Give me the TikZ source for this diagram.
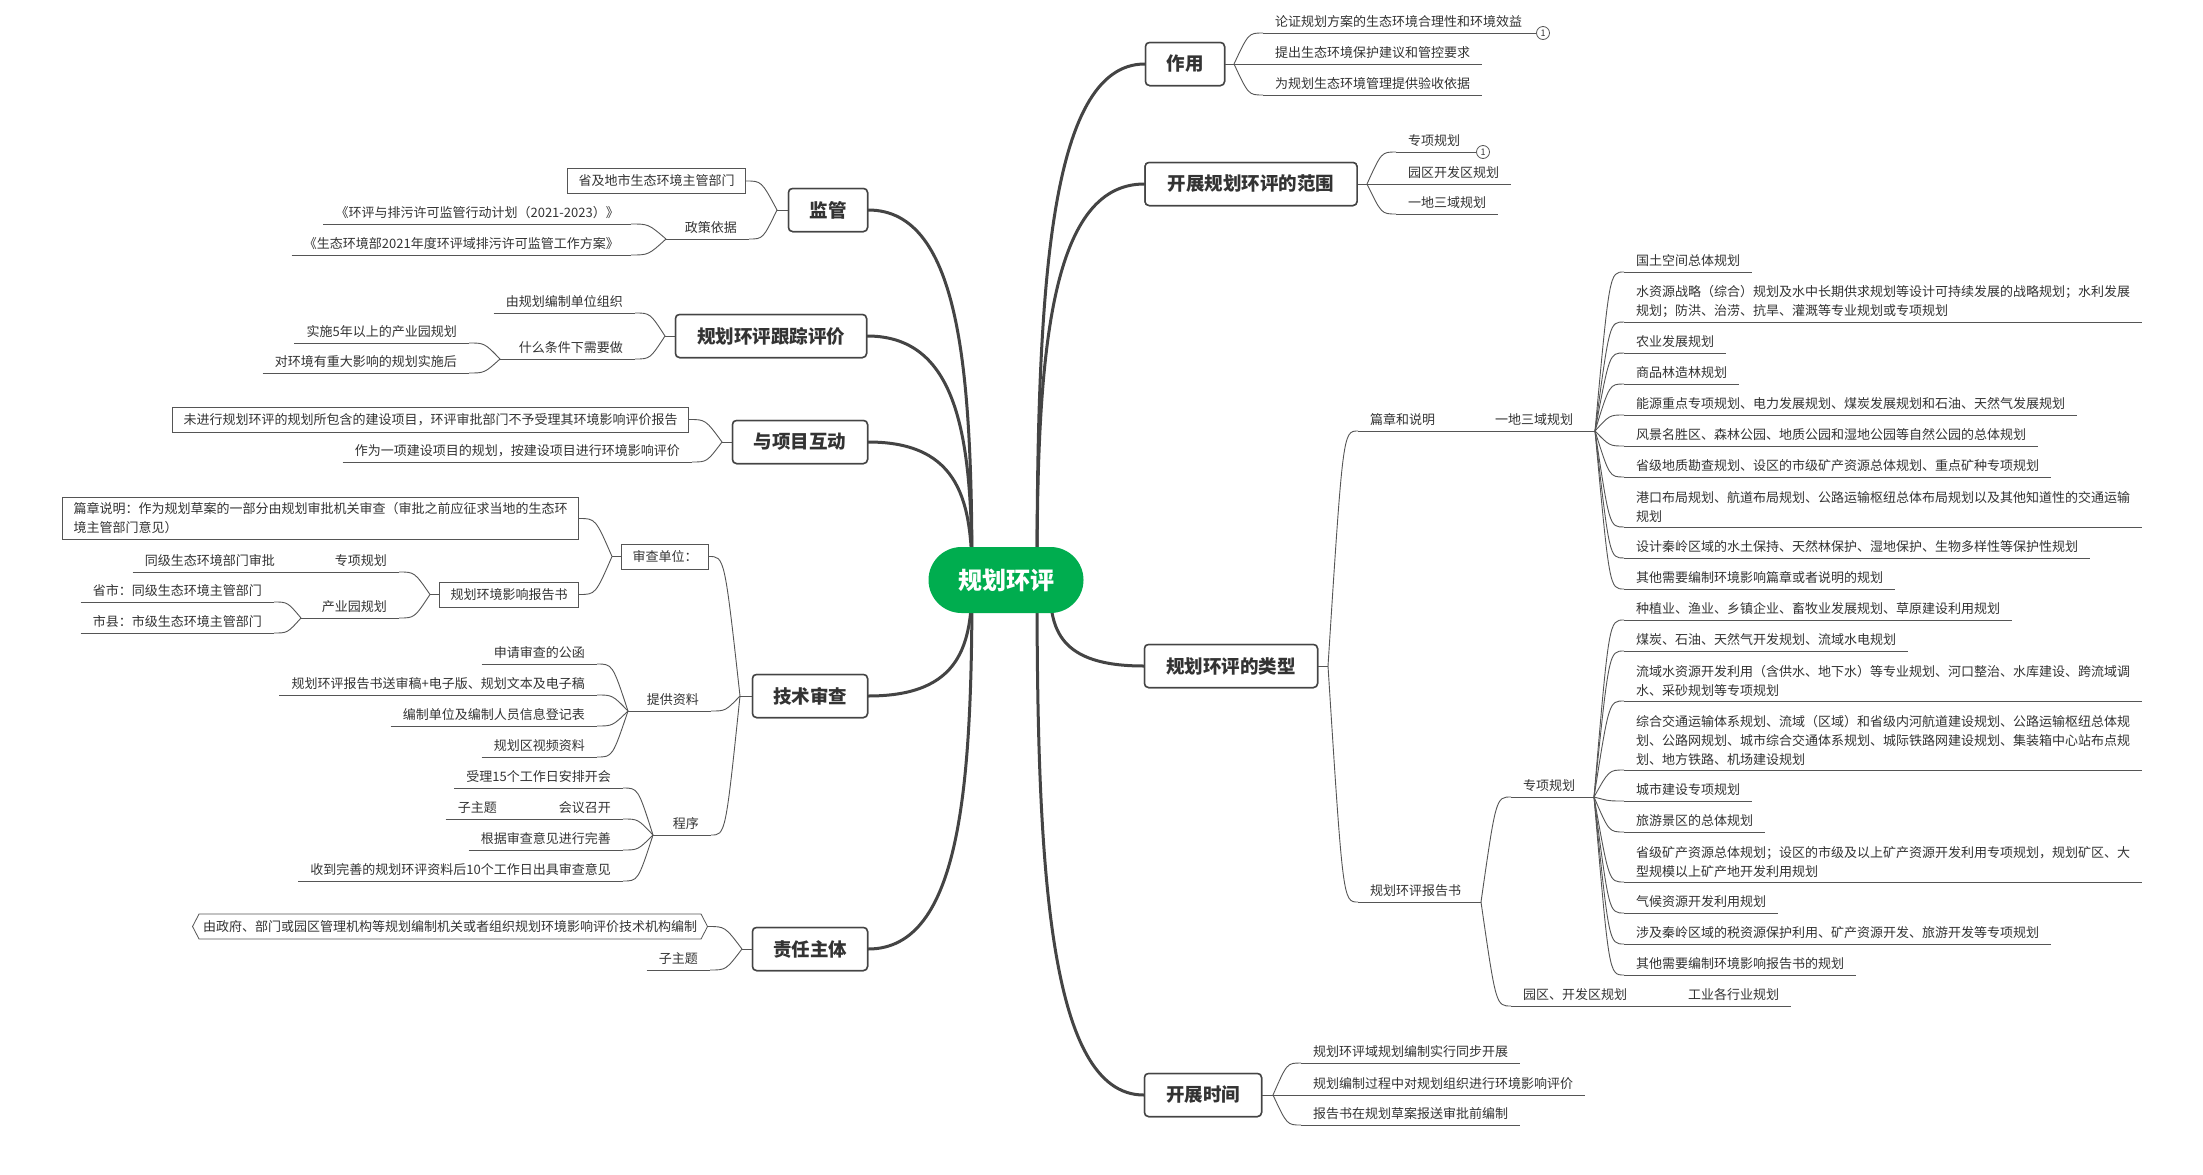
\documentclass[tikz,border=0pt]{standalone}
\usepackage{fontspec}
\setmainfont{Noto Sans CJK SC}
\usetikzlibrary{calc,shapes.symbols}
\definecolor{txt}{HTML}{333333}
\definecolor{ln}{HTML}{555555}
\definecolor{thk}{HTML}{444444}
\definecolor{grn}{HTML}{00AD4F}
\newcommand\fsleaf{\fontsize{13}{19}\selectfont}
\newcommand\cur[2]{\draw[conn] (#1) .. controls ($(#1 |- #2)!0.5!(#2)$) .. (#2);}
\newcommand\mcur[2]{\draw[mainln] let \p1=(#1), \p2=(#2) in (\p1) .. controls (\x1, {\y1+0.55*(\y2-\y1)}) and ({\x1+0.1*(\x2-\x1)}, \y2) .. (\p2);}
\tikzset{
  conn/.style={draw=ln, line width=0.9pt},
  mainln/.style={draw=thk, line width=3pt, line cap=round},
  leafR/.style={anchor=south west, font=\fsleaf, text=txt, inner xsep=12pt, inner ysep=4pt, text height=11pt, text depth=2pt},
  leafL/.style={leafR, anchor=south east},
  multiR/.style={anchor=south west, font=\fsleaf, text=txt, inner xsep=12pt, inner ysep=4pt, align=left},
  boxL/.style={anchor=east, font=\fsleaf, text=txt, draw=ln, line width=0.8pt, inner xsep=11pt, inner ysep=6pt, text height=11pt, text depth=2pt},
  topic/.style={draw=thk, fill=white, rounded corners=4pt, line width=1.5pt, font=\fontsize{18.5}{22}\selectfont\bfseries, text=txt, minimum height=43pt, inner xsep=0pt},
  circ/.style={circle, draw=ln, line width=0.8pt, inner sep=0pt, minimum size=13pt, font=\fontsize{9}{9}\selectfont, text=txt},
}
\begin{document}
\begin{tikzpicture}[x=1pt,y=-1pt]
\fill[white] (0,0) rectangle (2203,1175);
\useasboundingbox (0,0) rectangle (2203,1175);

% main topics (placed first for naming; redrawn on top below)
\node[topic, minimum width=79pt] (zy) at (1185,64) {作用};
\node[topic, minimum width=212pt] (fw) at (1251,184) {开展规划环评的范围};
\node[topic, minimum width=173pt] (lx) at (1231,666) {规划环评的类型};
\node[topic, minimum width=117pt] (sj) at (1203,1095) {开展时间};
\node[topic, minimum width=79pt] (jg) at (828,210) {监管};
\node[topic, minimum width=191pt] (gz) at (771,336) {规划环评跟踪评价};
\node[topic, minimum width=135pt] (hd) at (800,442) {与项目互动};
\node[topic, minimum width=115pt] (jc) at (810,696) {技术审查};
\node[topic, minimum width=115pt] (zt) at (810,949) {责任主体};

% main connectors
\coordinate (rs) at (1037,580);
\coordinate (rs2) at (1050,585);
\coordinate (ls) at (972,580);
\mcur{rs}{zy.west}
\mcur{rs}{fw.west}
\mcur{rs2}{lx.west}
\mcur{rs}{sj.west}
\mcur{ls}{jg.east}
\mcur{ls}{gz.east}
\mcur{ls}{hd.east}
\mcur{ls}{jc.east}
\mcur{ls}{zt.east}
\node[fill=grn, rounded corners=33pt, minimum width=155pt, minimum height=66pt, text=white, font=\fontsize{24}{28}\selectfont\bfseries] (root) at (1006,580) {规划环评};
% redraw boxes on top of connectors
\foreach \w/\p/\t in {79/{1185,64}/作用, 212/{1251,184}/开展规划环评的范围, 173/{1231,666}/规划环评的类型, 117/{1203,1095}/开展时间, 79/{828,210}/监管, 191/{771,336}/规划环评跟踪评价, 135/{800,442}/与项目互动, 115/{810,696}/技术审查, 115/{810,949}/责任主体}
  {\node[topic, minimum width=\w pt] at (\p) {\t};}

% ---------- 作用
\coordinate (fa) at (1234,64);
\draw[conn] (zy.east) -- (fa);
\node[leafR] (a1) at (1263,33) {论证规划方案的生态环境合理性和环境效益};
\node[leafR] (a2) at (1263,64) {提出生态环境保护建议和管控要求};
\node[leafR] (a3) at (1263,95) {为规划生态环境管理提供验收依据};
\node[circ] (n1) at (1543,33) {1};
\draw[conn] (a1.south east) -- (n1.west);
\foreach \n in {a1,a2,a3} {\cur{fa}{\n.south west}}

% ---------- 范围
\coordinate (fb) at (1367,184);
\draw[conn] (fw.east) -- (fb);
\node[leafR] (b1) at (1396,152) {专项规划};
\node[leafR] (b2) at (1396,184) {园区开发区规划};
\node[leafR] (b3) at (1396,214) {一地三域规划};
\node[circ] (n2) at (1483,152) {1};
\draw[conn] (b1.south east) -- (n2.west);
\foreach \n in {b1,b2,b3} {\cur{fb}{\n.south west}}

% ---------- 类型
\coordinate (fc) at (1328,666);
\draw[conn] (lx.east) -- (fc);
\node[leafR] (c1) at (1358,431) {篇章和说明};
\node[leafR] (c11) at (1483,431) {一地三域规划};
\draw[conn] (c1.south east) -- (c11.south west);
\coordinate (k11) at (1595,431);
\draw[conn] (c11.south east) -- (k11);
\node[leafR] (q1) at (1624,272) {国土空间总体规划};
\node[multiR] (q2) at (1624,322) {水资源战略（综合）规划及水中长期供求规划等设计可持续发展的战略规划；水利发展\\规划；防洪、治涝、抗旱、灌溉等专业规划或专项规划};
\node[leafR] (q3) at (1624,353) {农业发展规划};
\node[leafR] (q4) at (1624,384) {商品林造林规划};
\node[leafR] (q5) at (1624,415) {能源重点专项规划、电力发展规划、煤炭发展规划和石油、天然气发展规划};
\node[leafR] (q6) at (1624,446) {风景名胜区、森林公园、地质公园和湿地公园等自然公园的总体规划};
\node[leafR] (q7) at (1624,477) {省级地质勘查规划、设区的市级矿产资源总体规划、重点矿种专项规划};
\node[multiR] (q8) at (1624,527) {港口布局规划、航道布局规划、公路运输枢纽总体布局规划以及其他知道性的交通运输\\规划};
\node[leafR] (q9) at (1624,558) {设计秦岭区域的水土保持、天然林保护、湿地保护、生物多样性等保护性规划};
\node[leafR] (q10) at (1624,589) {其他需要编制环境影响篇章或者说明的规划};
\foreach \i in {1,...,10} {\cur{k11}{q\i.south west}}

\node[leafR] (c2) at (1358,902) {规划环评报告书};
\coordinate (k2) at (1481,902);
\draw[conn] (c2.south east) -- (k2);
\node[leafR] (c21) at (1511,797) {专项规划};
\coordinate (k21) at (1594,797);
\draw[conn] (c21.south east) -- (k21);
\node[leafR] (c22) at (1511,1006) {园区、开发区规划};
\node[leafR] (c221) at (1676,1006) {工业各行业规划};
\draw[conn] (c22.south east) -- (c221.south west);
\cur{fc}{c1.south west}
\cur{fc}{c2.south west}
\cur{k2}{c21.south west}
\cur{k2}{c22.south west}
\node[leafR] (r1) at (1624,620) {种植业、渔业、乡镇企业、畜牧业发展规划、草原建设利用规划};
\node[leafR] (r2) at (1624,651) {煤炭、石油、天然气开发规划、流域水电规划};
\node[multiR] (r3) at (1624,701) {流域水资源开发利用（含供水、地下水）等专业规划、河口整治、水库建设、跨流域调\\水、采砂规划等专项规划};
\node[multiR] (r4) at (1624,770) {综合交通运输体系规划、流域（区域）和省级内河航道建设规划、公路运输枢纽总体规\\划、公路网规划、城市综合交通体系规划、城际铁路网建设规划、集装箱中心站布点规\\划、地方铁路、机场建设规划};
\node[leafR] (r5) at (1624,801) {城市建设专项规划};
\node[leafR] (r6) at (1624,832) {旅游景区的总体规划};
\node[multiR] (r7) at (1624,882) {省级矿产资源总体规划；设区的市级及以上矿产资源开发利用专项规划，规划矿区、大\\型规模以上矿产地开发利用规划};
\node[leafR] (r8) at (1624,913) {气候资源开发利用规划};
\node[leafR] (r9) at (1624,944) {涉及秦岭区域的税资源保护利用、矿产资源开发、旅游开发等专项规划};
\node[leafR] (r10) at (1624,975) {其他需要编制环境影响报告书的规划};
\foreach \i in {1,...,10} {\cur{k21}{r\i.south west}}

% ---------- 开展时间
\coordinate (fd) at (1273,1095);
\draw[conn] (sj.east) -- (fd);
\node[leafR] (d1) at (1301,1063) {规划环评域规划编制实行同步开展};
\node[leafR] (d2) at (1301,1095) {规划编制过程中对规划组织进行环境影响评价};
\node[leafR] (d3) at (1301,1125) {报告书在规划草案报送审批前编制};
\foreach \n in {d1,d2,d3} {\cur{fd}{\n.south west}}

% ---------- 监管
\coordinate (fe) at (777,210);
\draw[conn] (jg.west) -- (fe);
\node[boxL] (e1) at (746,181) {省及地市生态环境主管部门};
\node[leafL] (e2) at (749,239) {政策依据};
\coordinate (ke2) at (666,239);
\draw[conn] (e2.south west) -- (ke2);
\node[leafL] (e21) at (631,224) {《环评与排污许可监管行动计划（2021-2023）》};
\node[leafL] (e22) at (631,255) {《生态环境部2021年度环评域排污许可监管工作方案》};
\cur{fe}{e1.east}
\cur{fe}{e2.south east}
\cur{ke2}{e21.south east}
\cur{ke2}{e22.south east}

% ---------- 跟踪评价
\coordinate (ff) at (665,336);
\draw[conn] (gz.west) -- (ff);
\node[leafL] (f1) at (635,313) {由规划编制单位组织};
\node[leafL] (f2) at (635,359) {什么条件下需要做};
\coordinate (kf2) at (500,359);
\draw[conn] (f2.south west) -- (kf2);
\node[leafL] (f21) at (469,343) {实施5年以上的产业园规划};
\node[leafL] (f22) at (469,373) {对环境有重大影响的规划实施后};
\cur{ff}{f1.south east}
\cur{ff}{f2.south east}
\cur{kf2}{f21.south east}
\cur{kf2}{f22.south east}

% ---------- 与项目互动
\coordinate (fg) at (722,442);
\draw[conn] (hd.west) -- (fg);
\node[boxL] (g1) at (689,419.5) {未进行规划环评的规划所包含的建设项目，环评审批部门不予受理其环境影响评价报告};
\node[leafL] (g2) at (692,462) {作为一项建设项目的规划，按建设项目进行环境影响评价};
\cur{fg}{g1.east}
\cur{fg}{g2.south east}

% ---------- 技术审查
\coordinate (fh) at (740,696);
\draw[conn] (jc.west) -- (fh);
\node[boxL] (h1) at (709,556.5) {审查单位：};
\coordinate (kh1) at (612,556.5);
\draw[conn] (h1.west) -- (kh1);
\node[anchor=east, font=\fsleaf, text=txt, draw=ln, line width=0.8pt, inner xsep=11pt, inner ysep=5.5pt, align=left] (h11) at (579,518.5) {篇章说明：作为规划草案的一部分由规划审批机关审查（审批之前应征求当地的生态环\\境主管部门意见）};
\node[boxL] (h12) at (579,594.5) {规划环境影响报告书};
\coordinate (kh12) at (430,594.5);
\draw[conn] (h12.west) -- (kh12);
\node[leafL] (h121) at (399,572) {专项规划};
\node[leafL] (h1211) at (287,572) {同级生态环境部门审批};
\draw[conn] (h121.south west) -- (h1211.south east);
\node[leafL] (h122) at (399,618) {产业园规划};
\coordinate (kh122) at (301,618);
\draw[conn] (h122.south west) -- (kh122);
\node[leafL] (h1221) at (274,602) {省市：同级生态环境主管部门};
\node[leafL] (h1222) at (274,633) {市县：市级生态环境主管部门};
\node[leafL] (h2) at (711,711) {提供资料};
\coordinate (kh2) at (628,711);
\draw[conn] (h2.south west) -- (kh2);
\node[leafL] (h21) at (597,664) {申请审查的公函};
\node[leafL] (h22) at (597,695) {规划环评报告书送审稿+电子版、规划文本及电子稿};
\node[leafL] (h23) at (597,726) {编制单位及编制人员信息登记表};
\node[leafL] (h24) at (597,757) {规划区视频资料};
\node[leafL] (h3) at (711,835) {程序};
\coordinate (kh3) at (653,835);
\draw[conn] (h3.south west) -- (kh3);
\node[leafL] (h31) at (623,788) {受理15个工作日安排开会};
\node[leafL] (h32) at (623,819) {会议召开};
\node[leafL] (h321) at (509,819) {子主题};
\draw[conn] (h32.south west) -- (h321.south east);
\node[leafL] (h33) at (623,850) {根据审查意见进行完善};
\node[leafL] (h34) at (623,881) {收到完善的规划环评资料后10个工作日出具审查意见};
\cur{fh}{h1.east}
\cur{fh}{h2.south east}
\cur{fh}{h3.south east}
\cur{kh1}{h11.east}
\cur{kh1}{h12.east}
\cur{kh12}{h121.south east}
\cur{kh12}{h122.south east}
\cur{kh122}{h1221.south east}
\cur{kh122}{h1222.south east}
\foreach \n in {h21,h22,h23,h24} {\cur{kh2}{\n.south east}}
\foreach \n in {h31,h32,h33,h34} {\cur{kh3}{\n.south east}}

% ---------- 责任主体
\coordinate (fi) at (742,949);
\draw[conn] (zt.west) -- (fi);
\node[signal, signal to=west and east, signal pointer angle=125, draw=ln, line width=0.8pt, anchor=east, font=\fsleaf, text=txt, inner xsep=4pt, inner ysep=6pt, text height=11pt, text depth=2pt] (i1) at (708,926.5) {由政府、部门或园区管理机构等规划编制机关或者组织规划环境影响评价技术机构编制};
\node[leafL] (i2) at (710,970) {子主题};
\cur{fi}{i1.east}
\cur{fi}{i2.south east}

% underlines
\foreach \n in {a1,a2,a3,b1,b2,b3,c1,c11,c2,c21,c22,c221,q1,q2,q3,q4,q5,q6,q7,q8,q9,q10,r1,r2,r3,r4,r5,r6,r7,r8,r9,r10,d1,d2,d3,e2,e21,e22,f1,f2,f21,f22,g2,h121,h1211,h122,h1221,h1222,h2,h21,h22,h23,h24,h3,h31,h32,h321,h33,h34,i2}
  {\draw[conn] (\n.south west) -- (\n.south east);}
\end{tikzpicture}
\end{document}
